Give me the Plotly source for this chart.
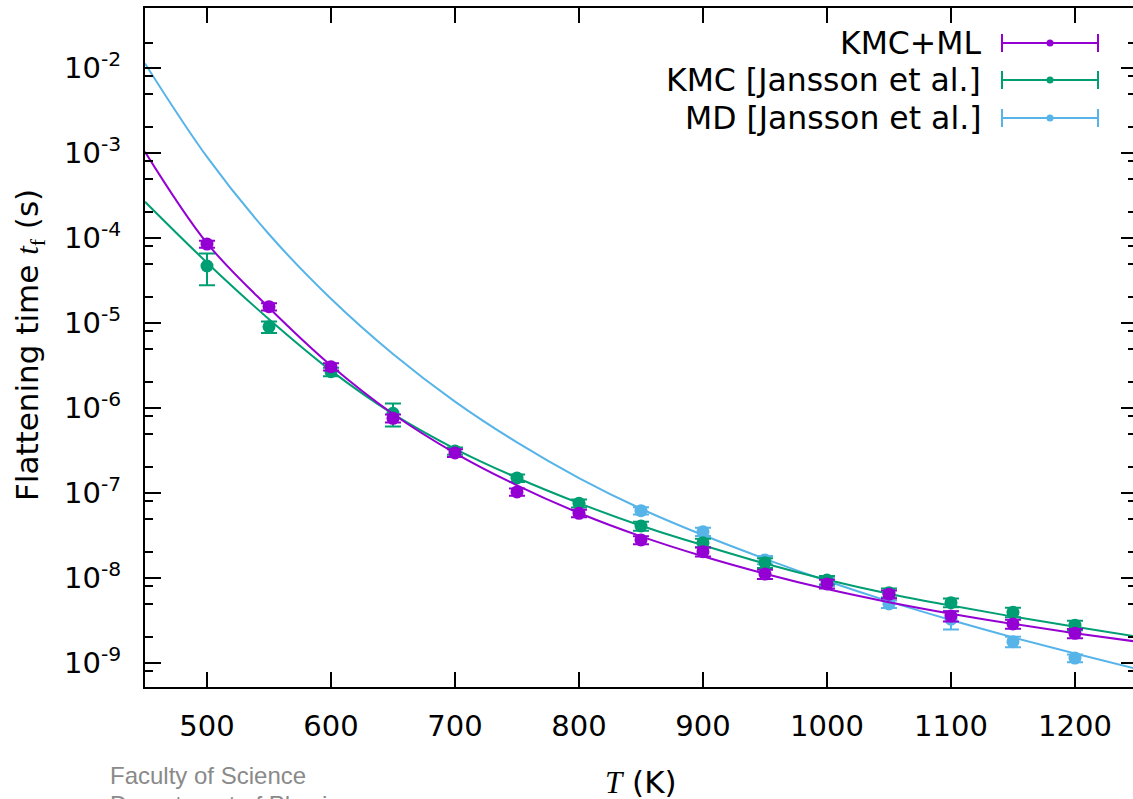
import plotly.graph_objects as go

# Measured points (temperature in K, flattening time in s)
T_points = [500, 550, 600, 650, 700, 750, 800, 850, 900, 950, 1000, 1050, 1100, 1150, 1200]
kmc_ml = [8.49e-5, 1.556e-5, 3.06e-6, 7.57e-7, 2.96e-7, 1.03e-7, 5.77e-8, 2.80e-8, 2.04e-8,
          1.11e-8, 8.5e-9, 6.43e-9, 3.57e-9, 2.88e-9, 2.23e-9]
kmc_ml_err = [8e-6, 1.5e-6, 3e-7, 8e-8, 3e-8, 1e-8, 6e-9, 3e-9, 2.5e-9,
              1.4e-9, 1e-9, 7e-10, 5e-10, 3.5e-10, 2.8e-10]
kmc_j = [4.69e-5, 9.04e-6, 2.67e-6, 8.67e-7, 3.12e-7, 1.5e-7, 7.57e-8, 4.09e-8, 2.6e-8,
         1.51e-8, 9.46e-9, 6.71e-9, 5.12e-9, 3.95e-9, 2.78e-9]
kmc_j_err = [1.9e-5, 1.4e-6, 3e-7, 2.6e-7, 3e-8, 1.5e-8, 8e-9, 5e-9, 3e-9,
             2e-9, 1.1e-9, 8e-10, 6e-10, 5e-10, 3.5e-10]

T_md = [850, 900, 950, 1000, 1050, 1100, 1150, 1200]
md_j = [6.19e-8, 3.51e-8, 1.63e-8, 9.03e-9, 4.94e-9, 3.27e-9, 1.78e-9, 1.14e-9]
md_j_err = [6e-9, 4e-9, 1.8e-9, 1e-9, 5e-10, 8e-10, 2.5e-10, 1.2e-10]

# Fitted curves, sampled every 50 K
T_fit = [450, 500, 550, 600, 650, 700, 750, 800, 850, 900, 950, 1000, 1050, 1100, 1150, 1200, 1250]
fit_kmc_ml = [1.035e-3, 8.71e-5, 1.514e-5, 3.16e-6, 8.51e-7, 2.95e-7, 1.23e-7, 5.82e-8, 3.09e-8,
              1.80e-8, 1.122e-8, 7.41e-9, 5.19e-9, 3.80e-9, 2.88e-9, 2.24e-9, 1.78e-9]
fit_kmc_j = [2.67e-4, 5.13e-5, 1.109e-5, 2.75e-6, 8.51e-7, 3.31e-7, 1.51e-7, 7.59e-8, 4.12e-8,
             2.43e-8, 1.48e-8, 9.55e-9, 6.53e-9, 4.73e-9, 3.51e-9, 2.66e-9, 2.04e-9]
fit_md_j = [1.135e-2, 9.02e-4, 1.109e-4, 1.93e-5, 4.32e-6, 1.19e-6, 3.94e-7, 1.50e-7, 6.53e-8,
            3.20e-8, 1.68e-8, 9.23e-9, 5.31e-9, 3.20e-9, 2.00e-9, 1.29e-9, 8.51e-10]

series_names = ["KMC+ML", "KMC [Jansson et al.]", "MD [Jansson et al.]"]
colors = ["#9400d3", "#009e73", "#56b4e9"]

# Axis ticks
x_ticks = [500, 600, 700, 800, 900, 1000, 1100, 1200]
y_exponents = [-9, -8, -7, -6, -5, -4, -3, -2]
y_tickvals = [10.0 ** e for e in y_exponents]
y_ticktext = ["10<sup>%d</sup>" % e for e in y_exponents]
y_minor = [m * 10.0 ** e for e in range(-10, -1) for m in (2, 5, 8)]

W, H = 1133, 799
L, R, TOP, B = 145, 0, 8, 112
X_RANGE = [450, 1246.8]
Y_RANGE = [-9.283, -1.293]

TICK_FONT = dict(family="DejaVu Sans", size=29, color="black")


def px_x(p):
    """Horizontal page pixel -> paper fraction."""
    return (p - L) / (W - L - R)


def px_y(p):
    """Vertical page pixel (from top) -> paper fraction."""
    return (H - B - p) / (H - B - TOP)


fig = go.Figure()

data = [
    (T_points, kmc_ml, kmc_ml_err, fit_kmc_ml, colors[0]),
    (T_points, kmc_j, kmc_j_err, fit_kmc_j, colors[1]),
    (T_md, md_j, md_j_err, fit_md_j, colors[2]),
]

# draw MD first so KMC+ML ends up on top
for Tp, vals, errs, fit, col in reversed(data):
    fig.add_trace(go.Scatter(
        x=T_fit, y=fit, mode="lines",
        line=dict(color=col, width=2, shape="spline", smoothing=1.0),
        showlegend=False, hoverinfo="skip",
    ))
    fig.add_trace(go.Scatter(
        x=Tp, y=vals, mode="markers",
        marker=dict(color=col, size=13, line=dict(width=0)),
        error_y=dict(type="data", array=errs, color=col, thickness=2, width=8),
        showlegend=False,
    ))

# right-hand mirror ticks
fig.add_trace(go.Scatter(x=[], y=[], xaxis="x", yaxis="y3", showlegend=False))

# key: horizontal error-bar samples drawn on a pixel-scaled overlay
key_rows = [43, 80, 118]
key_center = 1050
key_half = 48
for name, col, yrow in zip(series_names, colors, key_rows):
    fig.add_trace(go.Scatter(
        x=[key_center], y=[yrow], xaxis="x2", yaxis="y2", mode="markers",
        marker=dict(color=col, size=7),
        error_x=dict(type="constant", value=key_half, color=col, thickness=2, width=9),
        showlegend=False, hoverinfo="skip",
    ))
    fig.add_annotation(
        x=px_x(983), y=px_y(yrow), xref="paper", yref="paper", text=name, showarrow=False,
        xanchor="right", yanchor="middle",
        font=dict(family="DejaVu Sans", size=31.5, color="black"),
    )

# axis titles
fig.add_annotation(
    x=px_x(29), y=px_y(345), xref="paper", yref="paper", textangle=-90, showarrow=False,
    text="Flattening time <span style=\"font-family:'Liberation Serif'\"><i>t</i><sub>f</sub></span> (s)",
    font=dict(family="DejaVu Sans", size=31, color="black"),
    xanchor="center", yanchor="middle",
)
fig.add_annotation(
    x=px_x(641), y=px_y(782), xref="paper", yref="paper", showarrow=False,
    text="<span style=\"font-family:'Liberation Serif'\"><i>T</i></span> (K)",
    font=dict(family="DejaVu Sans", size=31, color="black"),
    xanchor="center", yanchor="middle",
)

# footer
fig.add_annotation(
    x=px_x(108), y=px_y(775), xref="paper", yref="paper", showarrow=False,
    text="Faculty of Science",
    font=dict(family="Liberation Sans", size=24, color="#8a8a8a"),
    xanchor="left", yanchor="middle",
)
fig.add_annotation(
    x=px_x(108), y=px_y(789), xref="paper", yref="paper", showarrow=False,
    text="Department of Physics",
    font=dict(family="Liberation Sans", size=24, color="#8a8a8a"),
    xanchor="left", yanchor="top",
)

fig.update_layout(
    width=W, height=H,
    margin=dict(l=L, r=R, t=TOP, b=B, pad=0),
    paper_bgcolor="white", plot_bgcolor="white",
    showlegend=False,
    xaxis=dict(
        range=X_RANGE, tickvals=x_ticks, ticks="inside", ticklen=15, tickwidth=2,
        tickcolor="black", showline=True, linewidth=2, linecolor="black", mirror="ticks",
        showgrid=False, zeroline=False, tickfont=TICK_FONT, ticklabelstandoff=12,
    ),
    yaxis=dict(
        type="log", range=Y_RANGE, tickvals=y_tickvals, ticktext=y_ticktext,
        ticks="inside", ticklen=16, tickwidth=2, tickcolor="black",
        showline=True, linewidth=2, linecolor="black", mirror=False,
        showgrid=False, zeroline=False, tickfont=TICK_FONT, ticklabelstandoff=16,
        minor=dict(tickvals=y_minor, ticks="inside", ticklen=8, tickwidth=2,
                   tickcolor="black", showgrid=False),
    ),
    yaxis3=dict(
        type="log", range=Y_RANGE, overlaying="y", side="right", anchor="x",
        tickvals=y_tickvals, showticklabels=False, ticks="inside", ticklen=12,
        tickwidth=2, tickcolor="black", showline=False, showgrid=False, zeroline=False,
        minor=dict(tickvals=y_minor, ticks="inside", ticklen=5, tickwidth=2,
                   tickcolor="black", showgrid=False),
    ),
    xaxis2=dict(range=[L, W - R], overlaying="x", visible=False, fixedrange=True),
    yaxis2=dict(range=[H - B, TOP], overlaying="y", visible=False, fixedrange=True),
)

fig.write_html("out.html")
